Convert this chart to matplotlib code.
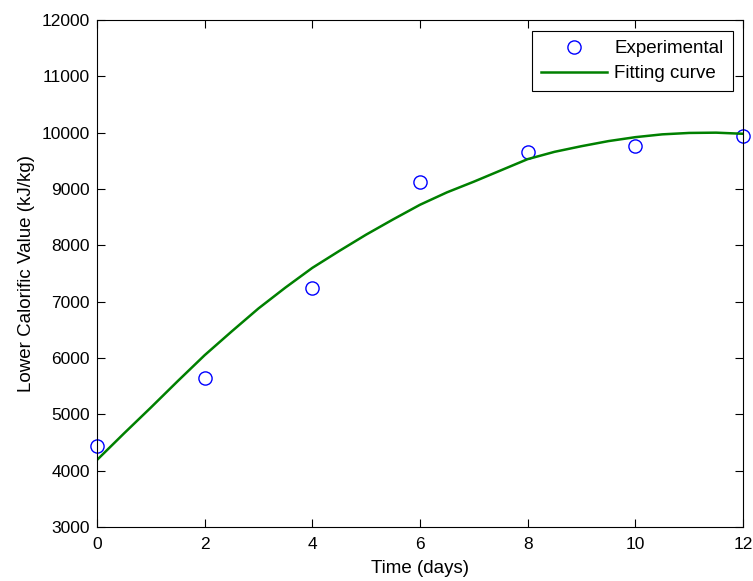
import matplotlib.pyplot as plt

plt.rcParams['font.family'] = ['Liberation Sans', 'DejaVu Sans']

# measured lower calorific value
days = [0, 2, 4, 6, 8, 10, 12]
lcv_exp = [4444, 5652, 7240, 9128, 9648, 9767, 9945]

# fitted curve, sampled every half day
fit_days = [0, 0.5, 1, 1.5, 2, 2.5, 3, 3.5, 4, 4.5, 5, 5.5, 6,
            6.5, 7, 7.5, 8, 8.5, 9, 9.5, 10, 10.5, 11, 11.5, 12]
lcv_fit = [4190, 4660, 5120, 5590, 6050, 6470, 6880, 7250, 7600, 7900,
           8190, 8460, 8720, 8940, 9130, 9330, 9530, 9660, 9760, 9850,
           9920, 9970, 9995, 10000, 9980]

fig = plt.figure(figsize=(7.53, 5.81), dpi=100)
ax = fig.add_axes([0.1288, 0.0929, 0.8579, 0.8727])

ax.plot(days, lcv_exp, 'o', markerfacecolor='none', markeredgecolor='blue',
        markersize=9.5, markeredgewidth=1.0, label='Experimental', clip_on=False)
ax.plot(fit_days, lcv_fit, color=(0, 0.5, 0), linewidth=1.8, label='Fitting curve')

ax.set_xlim(0, 12)
ax.set_ylim(3000, 12000)
ax.set_xticks(range(0, 13, 2))
ax.set_yticks(range(3000, 12001, 1000))
ax.tick_params(direction='in', top=True, right=True, length=6, labelsize=12.5,
               width=0.8)
ax.tick_params(axis='y', pad=5)
ax.tick_params(axis='x', pad=7)
for s in ax.spines.values():
    s.set_linewidth(0.8)

ax.set_xlabel('Time (days)', fontsize=13.5, labelpad=6)
ax.set_ylabel('Lower Calorific Value (kJ/kg)', fontsize=13.5, labelpad=5)

leg = ax.legend(loc='upper right', bbox_to_anchor=(1 - 10 / 646, 1 - 11 / 507),
                borderaxespad=0, fontsize=13.5, fancybox=False,
                edgecolor='black', framealpha=1, handlelength=3.5,
                handletextpad=0.4, borderpad=0.5, labelspacing=0.4)
leg.get_frame().set_linewidth(0.8)

fig.savefig('out.png', dpi=100)
